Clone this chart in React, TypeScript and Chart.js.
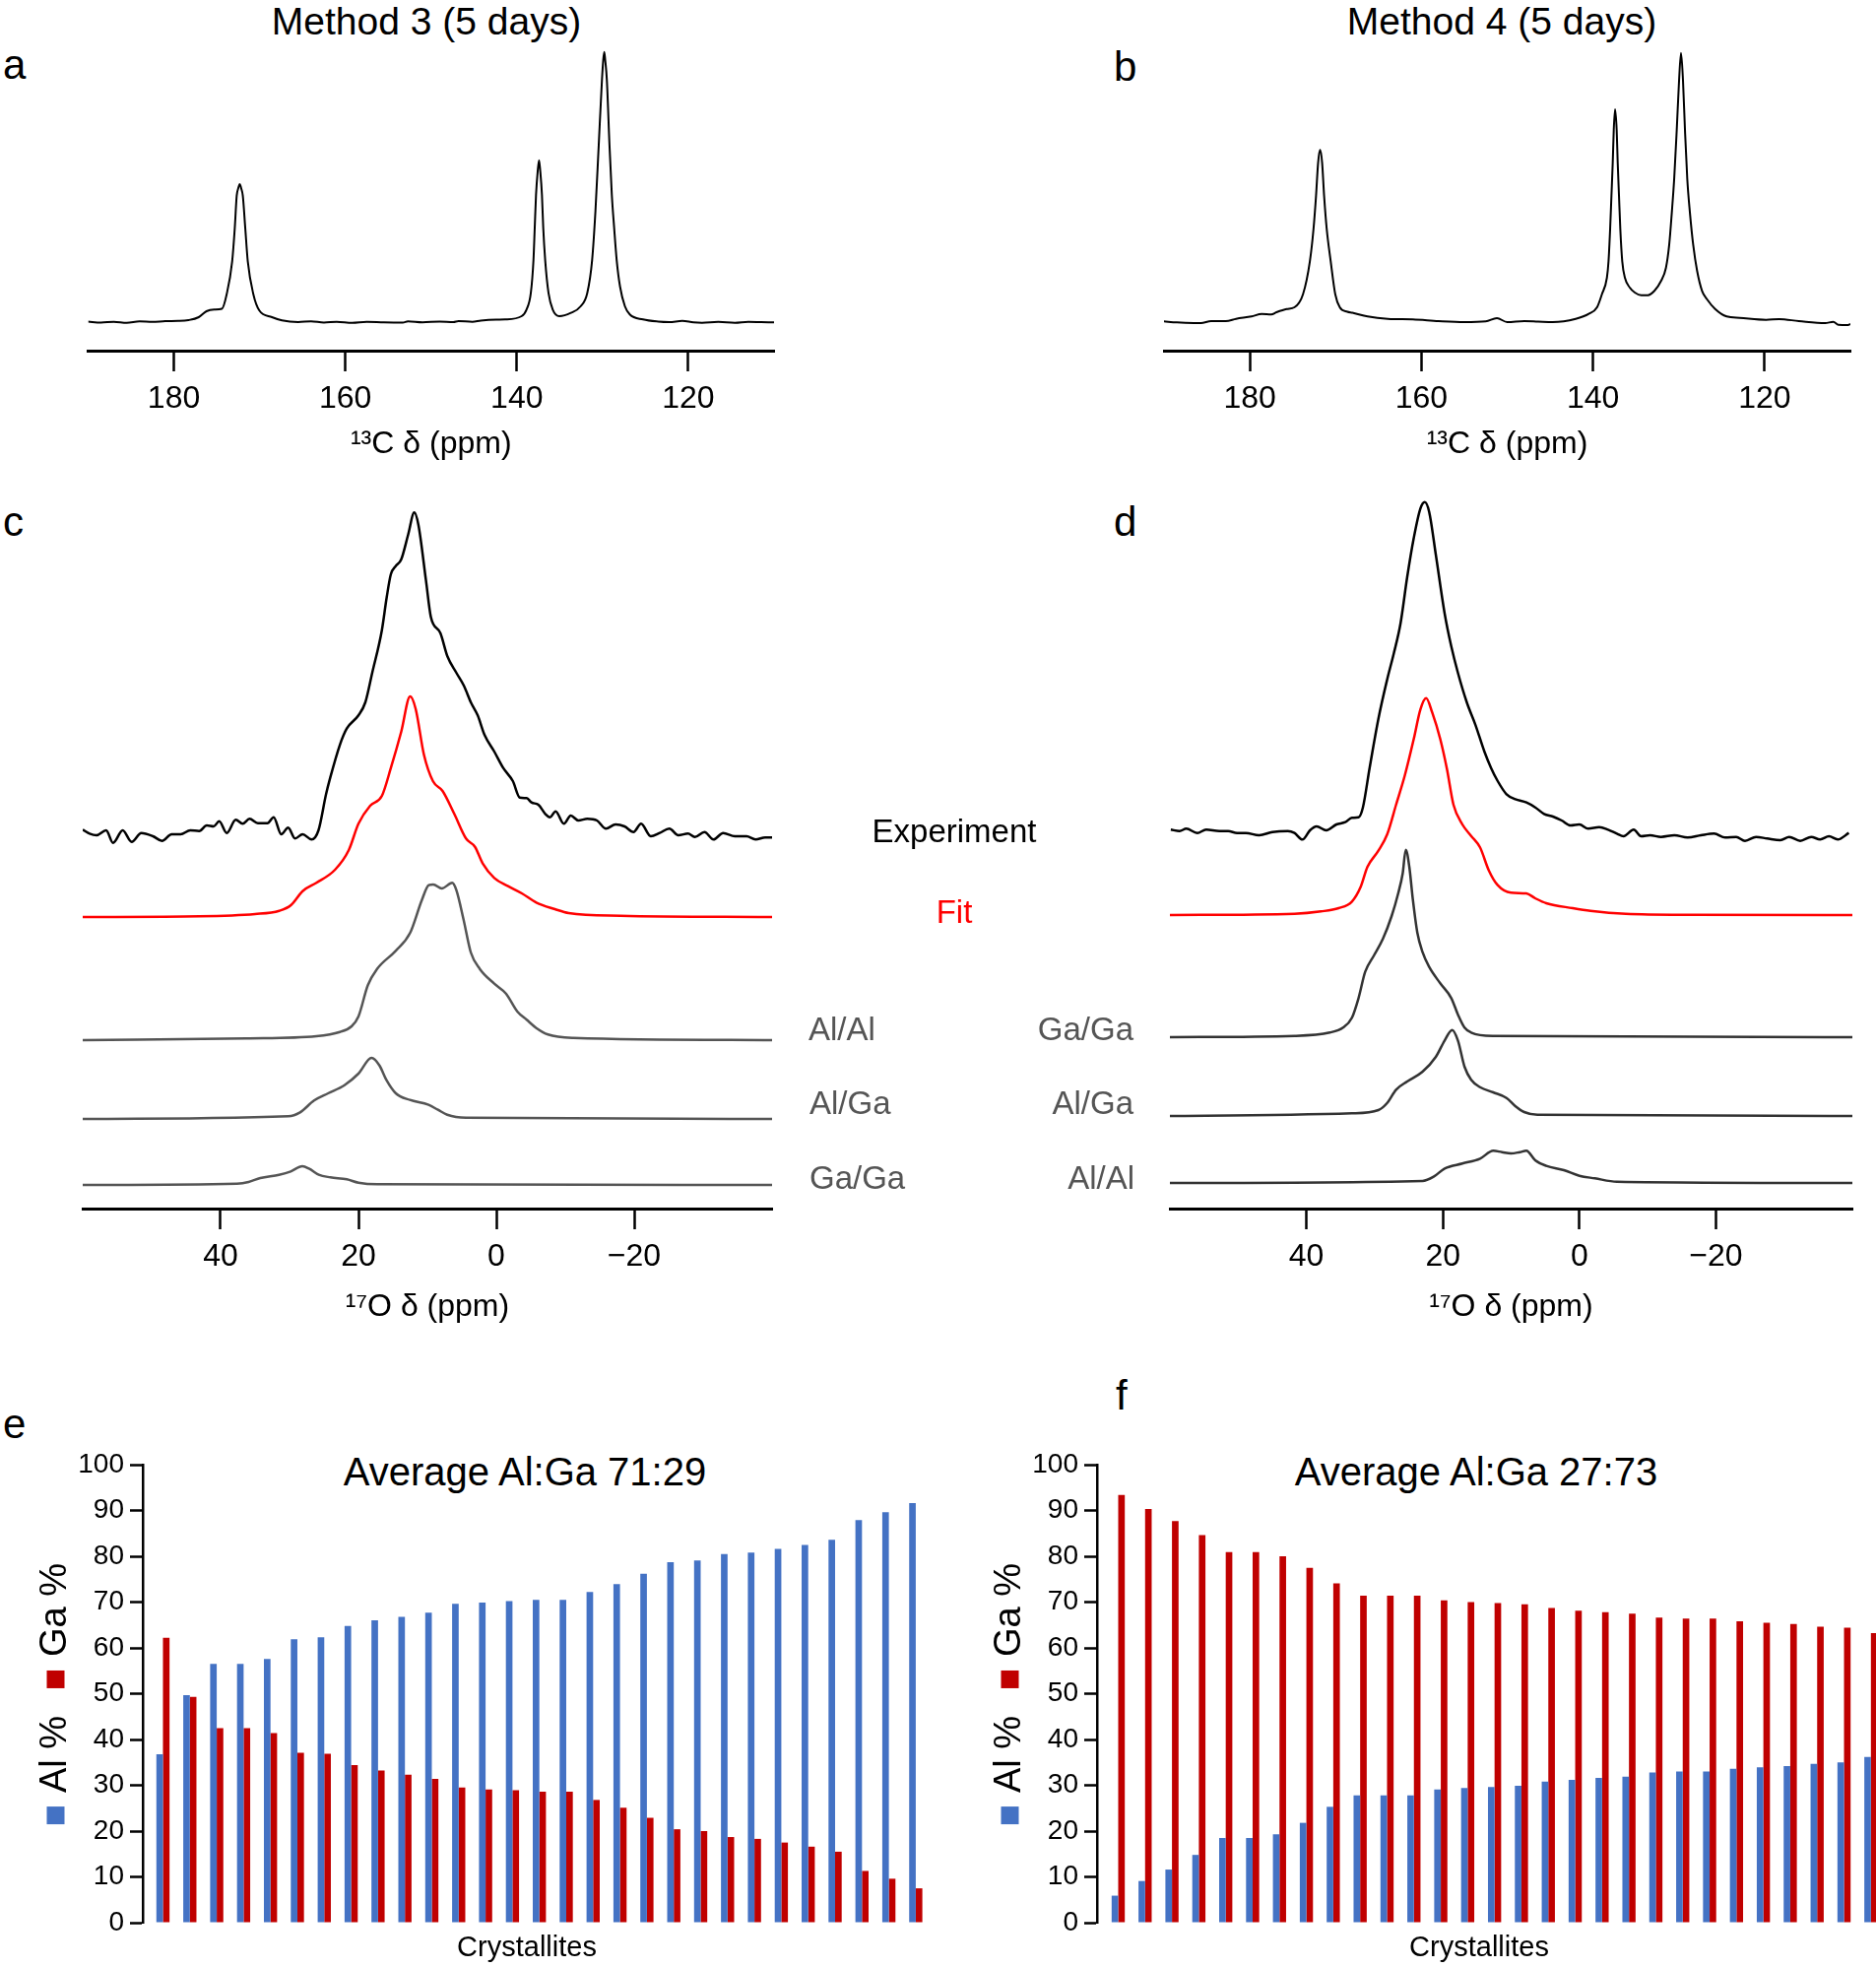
import { useEffect, useRef } from 'react';
import { Chart, registerables } from 'chart.js';

Chart.register(...registerables);

const FONT = "'Liberation Sans', Arial, Helvetica, sans-serif";
Chart.defaults.font.family = FONT;
Chart.defaults.color = '#000';

// ---------- data ----------
// 13C spectra: [ppm, intensity]
const C13_TICKS = [180, 160, 140, 120];
const O17_TICKS = [40, 20, 0, -20];

const SPEC_A: [number, number][] = [
  [190, 0.5], [188.5, -0.5], [187, 0.3], [185.5, -0.8], [184, 0.8], [182.5, 0.2], [181, 1], [179.5, 1.2],
  [178.3, 2], [177.1, 5], [176.2, 11], [175.3, 12.7], [174.4, 13.5], [173.84, 28.3], [173.2, 61.7],
  [172.9, 95], [172.67, 128.3], [172.5, 135.5], [172.32, 140], [172.14, 135.5], [171.96, 128.3],
  [171.67, 95], [171.38, 61.7], [170.73, 28.3], [170.03, 11.7], [168.56, 5], [167.4, 1.7], [165.5, 0],
  [164, 0.8], [162.5, -0.5], [161, 0.3], [159.2, -0.8], [157.5, 0.2], [155.5, -0.3], [153.3, -0.5],
  [152.7, 0.8], [151, -0.2], [149, 0.5], [147.4, 0], [146.8, 1], [145.18, 0.3], [144.2, 1.5], [142.4, 2.5],
  [141.36, 2.7], [139.44, 6], [138.87, 12.7], [138.37, 29.3], [138.06, 62.7], [137.91, 96], [137.76, 129.3],
  [137.57, 152.7], [137.41, 164.3], [137.26, 152.7], [137.07, 129.3], [136.92, 96], [136.69, 62.7],
  [136.3, 29.3], [135.81, 12.7], [135.04, 6], [133.7, 9.3], [132.56, 16], [131.79, 29.3], [131.22, 62.7],
  [130.83, 112.7], [130.45, 179.3], [130.07, 246], [129.92, 266], [129.8, 274.3], [129.69, 266],
  [129.5, 246], [129.19, 179.3], [128.92, 129.3], [128.65, 96], [128.35, 62.7], [127.96, 36], [127.39, 16],
  [126.82, 7.7], [125.29, 2.7], [123.5, 0.5], [122.23, 0], [120.7, 1.2], [119.4, -0.3], [118.4, -0.7],
  [116.5, 0.2], [114.57, -0.7], [113, 0.3], [111.52, 0], [110, -0.3],
];

const SPEC_B: [number, number][] = [
  [190, 0.7], [188.5, -0.3], [187.5, -0.7], [185.7, -1], [184.5, 1], [182.8, 1], [181.6, 3.3], [179.8, 5.7],
  [178.6, 8.3], [177.5, 7.7], [176.9, 10], [175.7, 13.3], [174.8, 15], [173.8, 28.3], [173.0, 61.7],
  [172.57, 95], [172.28, 128.3], [172.04, 161.7], [171.81, 175], [171.57, 161.7], [171.34, 128.3],
  [171.04, 95], [170.57, 61.7], [170.04, 28.3], [169.51, 15], [168.63, 10.5], [168.04, 9.5], [166.27, 5.7],
  [163.91, 3.3], [161, 2.7], [158, 1], [155, 0], [152.5, 0.7], [151.2, 4], [150, 0], [148, 1], [146.4, 0.5],
  [144.7, 0], [142.02, 3.3], [140.49, 8.3], [139.53, 15], [138.96, 28.3], [138.38, 45], [138.19, 61.7],
  [138.0, 95], [137.85, 128.3], [137.7, 161.7], [137.58, 195], [137.43, 216], [137.24, 195], [137.12, 161.7],
  [136.97, 128.3], [136.82, 95], [136.59, 61.7], [136.28, 45], [135.71, 35], [135.13, 30], [134.37, 27.3],
  [133.6, 27.3], [132.84, 31.7], [132.07, 41.7], [131.5, 55], [131.12, 78.3], [130.81, 111.7],
  [130.54, 145], [130.24, 195], [129.97, 245], [129.74, 273.3], [129.51, 245], [129.28, 195], [129.01, 145],
  [128.71, 111.7], [128.32, 78.3], [127.86, 51.7], [127.29, 31.7], [126.72, 23.3], [125.76, 13.3],
  [124.42, 5.7], [122.89, 4.3], [119.83, 2.3], [118.3, 3], [116.0, 1], [112.94, -1], [111.99, 0.3],
  [111.4, -2.7], [110.27, -3], [110, -2],
];

// 17O spectra, panel c: [ppm, intensity]
const C_EXP: [number, number][] = [
  [60.0, 5.7], [59.0, 1.7], [58.0, 0], [56.6, 5], [55.6, -7.7], [54.2, 5], [52.9, -6.7], [51.5, 2.3],
  [49.8, -1], [48.5, -5.7], [47.1, 1], [45.8, 1], [44.4, 5], [43.1, 4.3], [42.0, 10], [41.0, 9],
  [40.2, 14.3], [39.1, 2.3], [37.8, 15.7], [36.8, 11.7], [35.8, 16.7], [34.6, 12.3], [33.2, 12.3],
  [32.3, 18.3], [31.2, 1], [30.2, 7.7], [29.2, -3.3], [28.1, 1], [26.8, -4.3], [25.8, 5], [24.7, 41.7],
  [24.1, 58.3], [22.7, 91.7], [21.7, 108.3], [20.0, 121.7], [19.0, 135], [18.0, 165], [16.6, 208.3],
  [15.9, 241.7], [15.3, 265], [14.6, 273.3], [13.8, 280], [12.8, 305], [11.9, 327.7], [11.3, 315],
  [10.2, 258.3], [9.5, 221.7], [8.1, 205], [7.1, 181.7], [5.8, 165], [4.7, 151.7], [3.7, 135], [2.7, 121.7],
  [1.7, 101.7], [0.3, 85], [-1.0, 68.3], [-2.4, 55], [-3.4, 38.3], [-4.4, 37.7], [-5.1, 33.3], [-6.1, 31],
  [-7.1, 21.7], [-7.8, 18.3], [-8.6, 24.3], [-9.8, 11.7], [-10.8, 20], [-11.9, 15], [-13.2, 16.7],
  [-14.6, 15], [-15.9, 6.7], [-17.3, 11], [-18.6, 9], [-19.9, 3.3], [-21.0, 11.7], [-22.4, -1],
  [-23.7, 2.3], [-25.1, 6.7], [-26.4, 0], [-27.8, 1.7], [-28.8, -1.7], [-30.2, 3.3], [-31.5, -4.3],
  [-32.9, 2.3], [-34.6, -1], [-36.3, -1], [-37.6, -4.3], [-39.0, -2.3], [-40.0, -2.3],
];
const C_FIT: [number, number][] = [
  [60, 0], [43.1, 0.7], [35, 3], [31.5, 6.3], [29.8, 12], [28.1, 26.3], [26.1, 34.7], [23.4, 48],
  [21.4, 68], [20.0, 94.7], [18.3, 113], [16.6, 123], [15.3, 151.3], [13.8, 188], [12.5, 224], [11.7, 211.3],
  [10.5, 164.7], [9.2, 138], [7.8, 128], [6.1, 104.7], [4.4, 79.7], [3.1, 71.3], [2.0, 54.7], [0.3, 39.7],
  [-1.7, 31.3], [-3.7, 24], [-5.8, 14.7], [-8.5, 8], [-10.5, 4], [-18, 1.3], [-40, 0],
];
const C_ALAL: [number, number][] = [
  [60, 0], [36.27, 1.7], [26.1, 4], [22.7, 8.3], [21.0, 14], [20.0, 24], [18.64, 55.7], [17.3, 72.3],
  [14.6, 90.7], [12.5, 109], [10.8, 142.3], [9.8, 157.3], [9.15, 158], [7.9, 154], [6.4, 159.7],
  [5.8, 152.3], [4.75, 122.3], [3.7, 89], [2.4, 72.3], [0.3, 57.3], [-1.4, 47.3], [-3.05, 29], [-4.4, 20.7],
  [-5.8, 12.3], [-7.5, 5.7], [-11.2, 2.3], [-40, 0],
];
const C_ALGA: [number, number][] = [
  [60, 0], [30.17, 2.7], [28.47, 6.7], [26.44, 18.7], [24.41, 26], [22.03, 34.3], [20.0, 46], [18.1, 62],
  [16.95, 54.3], [15.93, 39.3], [14.58, 26], [12.54, 19.3], [9.83, 14.3], [8.47, 9.3], [7.12, 4.3],
  [4.41, 1.3], [-40, 0],
];
const C_GAGA: [number, number][] = [
  [60, 0], [37.63, 1.3], [35.93, 3], [34.24, 7], [31.53, 10.3], [29.83, 13.7], [28.14, 19], [27.12, 16.3],
  [25.76, 10.3], [24.07, 7.7], [21.69, 5.7], [20.0, 2.3], [17.29, 0.7], [-40, 0],
];

// 17O spectra, panel d
const D_EXP: [number, number][] = [
  [59.87, 4.7], [58.58, 3.3], [57.6, 5.7], [55.99, 1.3], [54.69, 4.7], [52.75, 3.3], [51.46, 3.3],
  [50.16, 1.3], [48.87, 1.3], [46.93, -1], [44.98, 2.3], [42.72, 3.3], [41.75, 1.3], [40.58, -5.3],
  [39.48, 4], [38.51, 8], [37.09, 4], [35.6, 10], [34.3, 12.3], [33.33, 16.7], [32.36, 17.3], [31.72, 27.3],
  [30.74, 67.3], [29.45, 117.3], [28.16, 157.3], [27.18, 184], [26.21, 214], [25.24, 260.7], [24.27, 300.7],
  [23.3, 330.7], [22.65, 337.3], [22.01, 327.3], [21.04, 284], [19.74, 224], [18.77, 190.7], [17.8, 164],
  [16.5, 134], [15.21, 110.7], [13.92, 84], [12.94, 67.3], [11.97, 54], [10.68, 40.7], [9.39, 35.7],
  [7.77, 32.3], [6.47, 27.3], [5.18, 20.7], [3.88, 18], [2.59, 14], [1.29, 9], [0, 10], [-1.29, 5.7],
  [-2.91, 7.3], [-4.21, 4.7], [-5.5, 0.7], [-6.47, -2], [-7.96, 4.7], [-9.06, -2], [-10.36, -1],
  [-11.97, -2.7], [-13.92, -1], [-15.86, -3.3], [-17.8, -1], [-19.74, 0.7], [-21.36, -3.3], [-22.98, -2.7],
  [-24.27, -6.7], [-25.89, -2.7], [-27.51, -4.3], [-29.45, -6], [-30.74, -2.7], [-32.36, -6.7],
  [-33.98, -2.7], [-35.28, -5.3], [-36.57, -2], [-37.86, -5.3], [-39.48, 1.3],
];
const D_FIT: [number, number][] = [
  [60, 0], [41.75, 1.3], [37.86, 3.7], [35.28, 7], [33.33, 13.7], [32.04, 28.7], [31.07, 48.7],
  [29.45, 65.3], [28.16, 82], [26.86, 112], [25.57, 142], [24.27, 178.7], [23.3, 208.7], [22.46, 220.3],
  [21.55, 205.3], [20.39, 178.7], [19.42, 148.7], [18.45, 112], [17.15, 92], [15.86, 80.3], [14.56, 68.7],
  [13.27, 45.3], [11.97, 30.3], [10.03, 22.7], [7.77, 22], [6.47, 17], [4.85, 12], [0.97, 7], [-1.62, 4.3],
  [-6.8, 1.3], [-16.5, 0.3], [-40, 0],
];
const D_GAGA: [number, number][] = [
  [60, 0], [41.75, 1.3], [36.57, 4.7], [34.63, 9.7], [33.33, 19.7], [32.36, 39.7], [31.39, 66.3],
  [30.1, 83], [28.8, 99.7], [27.51, 123], [26.54, 146.3], [25.89, 166.3], [25.44, 190.3], [24.92, 173],
  [24.4, 139.7], [23.75, 106.3], [22.98, 86.3], [22.01, 71.3], [20.39, 54.7], [18.77, 39.7], [17.8, 23],
  [16.83, 9.7], [15.86, 4.7], [12.62, 1.3], [-40, 0],
];
const D_ALGA: [number, number][] = [
  [60, 0], [33.33, 2.7], [29.45, 6], [28.16, 13.3], [26.86, 26.7], [25.24, 35], [22.98, 45], [21.04, 60],
  [19.74, 76.7], [18.64, 87.3], [17.8, 76.7], [16.83, 50], [15.86, 36.7], [14.56, 29.3], [12.62, 24],
  [10.68, 18.3], [9.39, 10], [8.09, 4], [6.15, 1.3], [-40, 0],
];
const D_ALAL: [number, number][] = [
  [60, 0], [22.98, 2], [21.36, 6.3], [19.74, 14.7], [17.15, 19.7], [14.56, 24.7], [12.62, 32.7],
  [11.33, 31.3], [10.03, 30], [8.74, 31.3], [7.77, 32.7], [6.47, 23], [4.85, 17.3], [2.27, 13], [0, 7.3],
  [-2.27, 4.7], [-5.5, 1.3], [-40, 0],
];

// crystallite compositions (%)
const CRYSTALLITES = [1, 2, 3, 4, 5, 6, 7, 8, 9, 10, 11, 12, 13, 14, 15, 16, 17, 18, 19, 20, 21, 22, 23, 24, 25, 26, 27, 28, 29];
const E_AL = [36.8, 49.7, 56.5, 56.5, 57.6, 61.9, 62.3, 64.8, 66.0, 66.8, 67.7, 69.6, 69.9, 70.2, 70.5, 70.5, 72.2, 73.9, 76.2, 78.7, 79.1, 80.5, 80.8, 81.6, 82.5, 83.6, 87.9, 89.6, 91.6];
const E_GA = [62.2, 49.3, 42.5, 42.5, 41.4, 37.1, 36.9, 34.4, 33.2, 32.3, 31.4, 29.5, 29.1, 28.9, 28.6, 28.6, 26.8, 25.1, 22.9, 20.4, 20.0, 18.7, 18.3, 17.5, 16.6, 15.5, 11.3, 9.6, 7.5];
const F_AL = [5.9, 9.1, 11.6, 14.8, 18.5, 18.5, 19.3, 21.8, 25.3, 27.8, 27.8, 27.8, 29.1, 29.4, 29.6, 29.9, 30.8, 31.2, 31.6, 31.9, 32.8, 33.0, 33.0, 33.6, 33.9, 34.2, 34.7, 35.0, 36.2];
const F_GA = [93.4, 90.3, 87.7, 84.6, 80.9, 80.9, 80.0, 77.5, 74.1, 71.4, 71.4, 71.4, 70.4, 70.0, 69.8, 69.5, 68.7, 68.1, 67.8, 67.5, 66.6, 66.4, 66.4, 65.8, 65.5, 65.2, 64.6, 64.4, 63.2];

const BLUE = '#4472C4';
const RED = '#C00000';

// ---------- plugins ----------
type TraceLabel = { text: string; color: string; x: number; v: number; align: CanvasTextAlign };

const makeTraceLabels = (items: TraceLabel[]) => ({
  id: 'traceLabels',
  afterDraw(chart: any) {
    const { ctx } = chart;
    const y = chart.scales.y;
    ctx.save();
    ctx.font = `33px ${FONT}`;
    ctx.textBaseline = 'middle';
    items.forEach((it) => {
      ctx.fillStyle = it.color;
      ctx.textAlign = it.align;
      ctx.fillText(it.text, it.x, y.getPixelForValue(it.v));
    });
    ctx.restore();
  },
});

// rotated legend placed left of the y axis, reading bottom to top
const makeSideLegend = (dx: number) => ({
  id: 'sideLegend',
  afterDraw(chart: any) {
    const { ctx, chartArea } = chart;
    const sq = 18;
    const gapIn = 14;
    const gapOut = 28;
    ctx.save();
    ctx.font = `38px ${FONT}`;
    const items = chart.data.datasets.map((ds: any) => ({
      text: ds.label,
      color: ds.backgroundColor,
      w: ctx.measureText(ds.label).width,
    }));
    const total = items.reduce((s: number, it: any, i: number) => s + sq + gapIn + it.w + (i ? gapOut : 0), 0);
    ctx.translate(chartArea.left - dx, (chartArea.top + chartArea.bottom) / 2);
    ctx.rotate(-Math.PI / 2);
    let p = -total / 2;
    items.forEach((it: any, i: number) => {
      if (i) p += gapOut;
      ctx.fillStyle = it.color;
      ctx.fillRect(p, -sq - 1, sq, sq);
      p += sq + gapIn;
      ctx.fillStyle = '#000';
      ctx.textBaseline = 'alphabetic';
      ctx.textAlign = 'left';
      ctx.fillText(it.text, p, 0);
      p += it.w;
    });
    ctx.restore();
  },
});

// ---------- config builders ----------
type Trace = { data: [number, number][]; offset: number; color: string; width: number };

function spectrumConfig(o: {
  traces: Trace[];
  ticks: number[];
  xMin: number;
  xMax: number;
  yMin: number;
  yMax: number;
  padding: { left: number; right: number; top: number };
  axisHeight: number;
  tickPad: number;
  titlePad: number;
  title: string;
  labels?: TraceLabel[];
}): any {
  return {
    type: 'line',
    data: {
      datasets: o.traces.map((t) => ({
        data: t.data.map(([x, v]) => ({ x, y: t.offset + v })),
        borderColor: t.color,
        borderWidth: t.width,
        pointRadius: 0,
        fill: false,
        cubicInterpolationMode: 'monotone',
      })),
    },
    options: {
      animation: false,
      responsive: false,
      maintainAspectRatio: false,
      events: [],
      layout: { padding: { ...o.padding, bottom: 0 } },
      plugins: { legend: { display: false }, tooltip: { enabled: false }, title: { display: false } },
      scales: {
        x: {
          type: 'linear',
          reverse: true,
          min: o.xMin,
          max: o.xMax,
          afterBuildTicks: (s: any) => {
            s.ticks = o.ticks.map((value) => ({ value }));
          },
          afterFit: (s: any) => {
            s.height = o.axisHeight;
          },
          grid: { drawOnChartArea: false, drawTicks: true, tickLength: 21, tickWidth: 2.5, tickColor: '#000' },
          border: { display: true, color: '#000', width: 3 },
          ticks: {
            font: { size: 32, lineHeight: 1.2 },
            color: '#000',
            padding: o.tickPad,
            maxRotation: 0,
            autoSkip: false,
            callback: (v: number) => String(v).replace('-', '\u2212'),
          },
          title: {
            display: true,
            text: o.title,
            color: '#000',
            font: { size: 32, lineHeight: 1.2 },
            padding: { top: 0, bottom: o.titlePad },
          },
        },
        y: { type: 'linear', display: false, min: o.yMin, max: o.yMax },
      },
    },
    plugins: o.labels ? [makeTraceLabels(o.labels)] : [],
  };
}

function barConfig(o: {
  al: number[];
  ga: number[];
  xMin: number;
  xMax: number;
  axisWidth: number;
  padRight: number;
}): any {
  return {
    type: 'bar',
    data: {
      labels: CRYSTALLITES,
      datasets: [
        { label: 'Al %', data: o.al, backgroundColor: BLUE, categoryPercentage: 0.49, barPercentage: 1, clip: false },
        { label: 'Ga %', data: o.ga, backgroundColor: RED, categoryPercentage: 0.49, barPercentage: 1, clip: false },
      ],
    },
    options: {
      animation: false,
      responsive: false,
      maintainAspectRatio: false,
      events: [],
      layout: { padding: { left: 0, right: o.padRight, top: 87, bottom: 0 } },
      plugins: { legend: { display: false }, tooltip: { enabled: false } },
      scales: {
        x: {
          type: 'linear',
          min: o.xMin,
          max: o.xMax,
          offset: false,
          grid: { display: false },
          border: { display: false },
          ticks: { display: false },
          afterFit: (s: any) => {
            s.height = 46;
          },
          title: {
            display: true,
            text: 'Crystallites',
            color: '#000',
            font: { size: 29, lineHeight: 1.2 },
            padding: { top: 0, bottom: 3 },
          },
        },
        y: {
          min: 0,
          max: 100,
          afterFit: (s: any) => {
            s.width = o.axisWidth;
          },
          ticks: { stepSize: 10, font: { size: 28 }, color: '#000', padding: 6 },
          grid: { drawOnChartArea: false, drawTicks: true, tickLength: 13, tickWidth: 2.5, tickColor: '#000' },
          border: { display: true, color: '#000', width: 2.5 },
        },
      },
    },
    plugins: [makeSideLegend(78.5)],
  };
}

// ---------- components ----------
function ChartCanvas(props: { left: number; top: number; width: number; height: number; make: () => any }) {
  const { left, top, width, height, make } = props;
  const canvasRef = useRef<HTMLCanvasElement>(null);
  const chartRef = useRef<Chart | null>(null);

  useEffect(() => {
    if (!canvasRef.current) return;
    if (chartRef.current) chartRef.current.destroy();
    chartRef.current = new Chart(canvasRef.current, make());
    return () => {
      if (chartRef.current) {
        chartRef.current.destroy();
        chartRef.current = null;
      }
    };
  }, [make]);

  return (
    <canvas
      ref={canvasRef}
      width={width}
      height={height}
      style={{ position: 'absolute', left, top, width, height }}
    />
  );
}

// text positioned by its baseline
function Txt(props: { x: number; base: number; size: number; center?: boolean; children: string }) {
  const { x, base, size, center, children } = props;
  return (
    <div
      style={{
        position: 'absolute',
        left: x,
        top: base - 0.8465 * size,
        fontSize: size,
        lineHeight: `${size}px`,
        whiteSpace: 'nowrap',
        color: '#000',
        transform: center ? 'translateX(-50%)' : undefined,
      }}
    >
      {children}
    </div>
  );
}

const makeA = () =>
  spectrumConfig({
    traces: [{ data: SPEC_A, offset: 0, color: '#000', width: 2 }],
    ticks: C13_TICKS,
    xMin: 110,
    xMax: 190,
    yMin: -29,
    yMax: 287,
    padding: { left: 89.5, right: 74, top: 40 },
    axisHeight: 124,
    tickPad: 9,
    titlePad: 10,
    title: '\u00B9\u00B3C \u03B4 (ppm)',
  });

const makeB = () =>
  spectrumConfig({
    traces: [{ data: SPEC_B, offset: 0, color: '#000', width: 2 }],
    ticks: C13_TICKS,
    xMin: 110,
    xMax: 190,
    yMin: -29,
    yMax: 287,
    padding: { left: 82, right: 26, top: 40 },
    axisHeight: 124,
    tickPad: 9,
    titlePad: 10,
    title: '\u00B9\u00B3C \u03B4 (ppm)',
  });

const GREY_C = '#555555';
const GREY_D = '#333333';
const LABEL_GREY = '#555555';

const makeC = () =>
  spectrumConfig({
    traces: [
      { data: C_EXP, offset: 379, color: '#000', width: 2.5 },
      { data: C_FIT, offset: 296, color: '#ff0000', width: 2.5 },
      { data: C_ALAL, offset: 171, color: GREY_C, width: 2.5 },
      { data: C_ALGA, offset: 91, color: GREY_C, width: 2.5 },
      { data: C_GAGA, offset: 24, color: GREY_C, width: 2.5 },
    ],
    ticks: O17_TICKS,
    xMin: -40,
    xMax: 60,
    yMin: 0,
    yMax: 722,
    padding: { left: 84, right: 316, top: 25 },
    axisHeight: 153,
    tickPad: 9,
    titlePad: 34,
    title: '\u00B9\u2077O \u03B4 (ppm)',
    labels: [
      { text: 'Experiment', color: '#000', x: 969, v: 381, align: 'center' },
      { text: 'Fit', color: '#ff0000', x: 969, v: 299, align: 'center' },
      { text: 'Al/Al', color: LABEL_GREY, x: 821, v: 180, align: 'left' },
      { text: 'Al/Ga', color: LABEL_GREY, x: 822, v: 105, align: 'left' },
      { text: 'Ga/Ga', color: LABEL_GREY, x: 822, v: 29, align: 'left' },
    ],
  });

const makeD = () =>
  spectrumConfig({
    traces: [
      { data: D_EXP, offset: 380, color: '#000', width: 2.5 },
      { data: D_FIT, offset: 298, color: '#ff0000', width: 2.5 },
      { data: D_GAGA, offset: 174, color: GREY_D, width: 2.5 },
      { data: D_ALGA, offset: 94, color: GREY_D, width: 2.5 },
      { data: D_ALAL, offset: 26, color: GREY_D, width: 2.5 },
    ],
    ticks: O17_TICKS,
    xMin: -40,
    xMax: 60,
    yMin: 0,
    yMax: 722,
    padding: { left: 138, right: 24, top: 25 },
    axisHeight: 153,
    tickPad: 9,
    titlePad: 34,
    title: '\u00B9\u2077O \u03B4 (ppm)',
    labels: [
      { text: 'Ga/Ga', color: LABEL_GREY, x: 101, v: 180, align: 'right' },
      { text: 'Al/Ga', color: LABEL_GREY, x: 101, v: 105, align: 'right' },
      { text: 'Al/Al', color: LABEL_GREY, x: 102, v: 29, align: 'right' },
    ],
  });

const makeE = () => barConfig({ al: E_AL, ga: E_GA, xMin: 0.25, xMax: 28.82, axisWidth: 145, padRight: 35 });
const makeF = () => barConfig({ al: F_AL, ga: F_GA, xMin: 0.2125, xMax: 28.64, axisWidth: 154, padRight: 15 });

export default function App() {
  return (
    <div
      style={{
        position: 'absolute',
        left: 0,
        top: 0,
        width: 1905,
        height: 1998,
        background: '#fff',
        overflow: 'hidden',
        fontFamily: FONT,
      }}
    >
      <Txt x={433} base={35} size={39} center>Method 3 (5 days)</Txt>
      <Txt x={1525} base={35} size={39} center>Method 4 (5 days)</Txt>
      <Txt x={3} base={81} size={42}>a</Txt>
      <Txt x={1131} base={83} size={42}>b</Txt>
      <Txt x={3} base={545} size={42}>c</Txt>
      <Txt x={1131} base={545} size={42}>d</Txt>
      <Txt x={3} base={1461} size={42}>e</Txt>
      <Txt x={1133} base={1432} size={42}>f</Txt>
      <Txt x={533} base={1508} size={40} center>Average Al:Ga 71:29</Txt>
      <Txt x={1499} base={1508} size={40} center>Average Al:Ga 27:73</Txt>

      <ChartCanvas left={0} top={0} width={860} height={480} make={makeA} />
      <ChartCanvas left={1100} top={0} width={805} height={480} make={makeB} />
      <ChartCanvas left={0} top={480} width={1100} height={900} make={makeC} />
      <ChartCanvas left={1050} top={480} width={855} height={900} make={makeD} />
      <ChartCanvas left={0} top={1400} width={960} height={598} make={makeE} />
      <ChartCanvas left={960} top={1400} width={945} height={598} make={makeF} />
    </div>
  );
}
